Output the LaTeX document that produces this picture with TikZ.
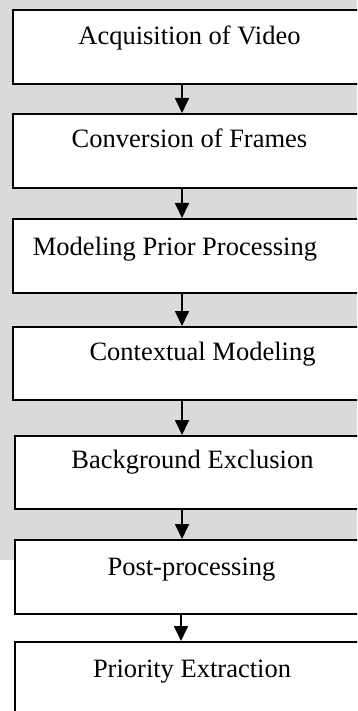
\documentclass[tikz,border=0pt]{standalone}
\usepackage{fontspec}
\setmainfont{Liberation Serif}
\usetikzlibrary{arrows.meta}
\definecolor{wmgray}{HTML}{DADADA}
\tikzset{
  stepbox/.style={draw=black, line width=1.9pt, fill=white, rectangle, anchor=north west,
    minimum width=360pt, inner sep=0pt},
  steplabel/.style={anchor=base, inner sep=0pt, font=\fontsize{26.5}{31}\selectfont},
  flowarrow/.style={draw=black, line width=1.7pt, -{Triangle[length=15pt,width=14pt]}}
}
\begin{document}
\begin{tikzpicture}[x=1pt,y=-1pt]
\useasboundingbox (0,0) rectangle (357,711);
\clip (0,0) rectangle (357,711);
\fill[wmgray] (0,0) rectangle (357,560);
% boxes
\node[stepbox, minimum height=74pt] (b1) at (12,9) {};
\node[stepbox, minimum height=74pt] (b2) at (12,113) {};
\node[stepbox, minimum height=74pt] (b3) at (12,218) {};
\node[stepbox, minimum height=73pt] (b4) at (12,326) {};
\node[stepbox, minimum height=73pt] (b5) at (14,435) {};
\node[stepbox, minimum height=74pt] (b6) at (14,539) {};
\node[stepbox, minimum height=90pt] (b7) at (14,641) {};
% labels
\node[steplabel] (t1) at (189.5,45) {Acquisition of Video};
\node[steplabel] (t2) at (189.5,148) {Conversion of Frames};
\node[steplabel] (t3) at (175,255) {Modeling Prior Processing};
\node[steplabel] (t4) at (202.5,360) {Contextual Modeling};
\node[steplabel] (t5) at (192.5,468) {Background Exclusion};
\node[steplabel] (t6) at (191.5,575) {Post-processing};
\node[steplabel] (t7) at (192,677) {Priority Extraction};
% arrows
\draw[flowarrow] ([xshift=170pt]b1.south west) -- ([xshift=170pt]b2.north west);
\draw[flowarrow] ([xshift=170pt]b2.south west) -- ([xshift=170pt]b3.north west);
\draw[flowarrow] ([xshift=170pt]b3.south west) -- ([xshift=170pt]b4.north west);
\draw[flowarrow] ([xshift=170pt]b4.south west) -- ([xshift=168pt]b5.north west);
\draw[flowarrow] ([xshift=168pt]b5.south west) -- ([xshift=168pt]b6.north west);
\draw[flowarrow] ([xshift=167pt]b6.south west) -- ([xshift=167pt]b7.north west);
\end{tikzpicture}
\end{document}
